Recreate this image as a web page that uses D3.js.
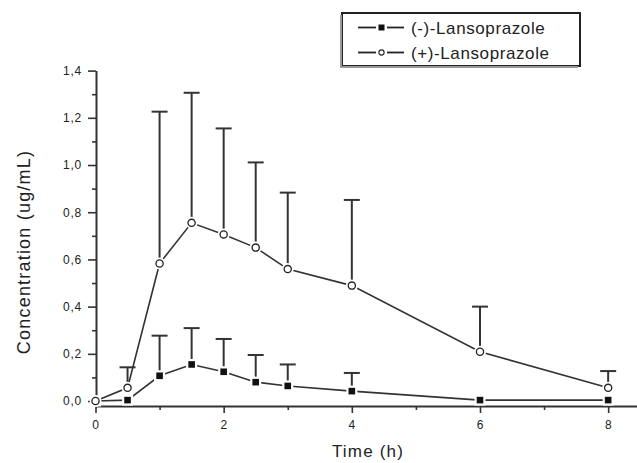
<!DOCTYPE html>
<html>
<head>
<meta charset="utf-8">
<script src="https://cdn.jsdelivr.net/npm/d3@7"></script>
<style>
  body { margin: 0; background: #fff; }
  svg text { font-family: "Liberation Sans", Arial, sans-serif; fill: #222; }
</style>
</head>
<body>
<svg id="chart"></svg>
<script>
// data
const time = [0, 0.5, 1, 1.5, 2, 2.5, 3, 4, 6, 8]
const minusMean = [0, 0.004, 0.107, 0.155, 0.124, 0.080, 0.064, 0.042, 0.004, 0.004]
const minusSD   = [0, 0, 0.170, 0.154, 0.139, 0.115, 0.091, 0.077, 0, 0]
const plusMean  = [0, 0.056, 0.583, 0.755, 0.706, 0.650, 0.559, 0.489, 0.209, 0.056]
const plusSD    = [0, 0.087, 0.643, 0.551, 0.449, 0.361, 0.324, 0.363, 0.191, 0.071]
const xTicks = [0, 2, 4, 6, 8]
const xMinor = [1, 3, 5, 7]
const yTicks = [0, 0.2, 0.4, 0.6, 0.8, 1.0, 1.2, 1.4]
const yMinor = [0.1, 0.3, 0.5, 0.7, 0.9, 1.1, 1.3]
const seriesNames = ['(-)-Lansoprazole', '(+)-Lansoprazole']

const W = 637, H = 463
const svg = d3.select('#chart').attr('width', W).attr('height', H)

const x = d3.scaleLinear().domain([0, 8.45]).range([95.5, 637])
const y = d3.scaleLinear().domain([-0.021, 1.4]).range([406, 70.6])

const minus = time.map((t, i) => ({t: t, v: minusMean[i], sd: minusSD[i]}))
const plus = time.map((t, i) => ({t: t, v: plusMean[i], sd: plusSD[i]}))

// axes
const fmt = d => d3.format('.1f')(d).replace('.', ',')

const yg = svg.append('g').attr('transform', 'translate(96,0)')
yg.call(d3.axisLeft(y).tickValues(yTicks).tickSize(8).tickSizeOuter(0).tickPadding(6).tickFormat(fmt))
yg.append('g').call(d3.axisLeft(y).tickValues(yMinor).tickSize(4).tickFormat(''))
  .select('.domain').remove()

const xg = svg.append('g').attr('transform', 'translate(0,406)')
xg.call(d3.axisBottom(x).tickValues(xTicks).tickSize(7).tickSizeOuter(0).tickPadding(7).tickFormat(d3.format('d')))
xg.append('g').call(d3.axisBottom(x).tickValues(xMinor).tickSize(4).tickFormat(''))
  .select('.domain').remove()

svg.selectAll('.domain').attr('stroke', '#333').attr('stroke-width', 2)
svg.selectAll('.tick line').attr('stroke', '#333').attr('stroke-width', 1.6)
svg.selectAll('.tick text').attr('font-size', 12).attr('letter-spacing', 0.8).attr('fill', '#333')

// axis titles
svg.append('text')
  .attr('x', 368).attr('y', 457)
  .attr('text-anchor', 'middle')
  .attr('font-size', 17).attr('letter-spacing', 1.2)
  .text('Time (h)')

svg.append('text')
  .attr('transform', 'translate(30,252) rotate(-90)')
  .attr('text-anchor', 'middle')
  .attr('font-size', 18).attr('letter-spacing', 1.2)
  .text('Concentration (ug/mL)')

// error bars (upper only)
function errBars(data){
  const g = svg.append('g').attr('stroke', '#333').attr('stroke-width', 2)
  const d = data.filter(p => p.sd > 0)
  g.selectAll('line.v').data(d).enter().append('line')
    .attr('x1', p => x(p.t)).attr('x2', p => x(p.t))
    .attr('y1', p => y(p.v)).attr('y2', p => y(p.v + p.sd))
  g.selectAll('line.c').data(d).enter().append('line')
    .attr('x1', p => x(p.t) - 8).attr('x2', p => x(p.t) + 8)
    .attr('y1', p => y(p.v + p.sd)).attr('y2', p => y(p.v + p.sd))
}
errBars(minus)
errBars(plus)

// lines
const line = d3.line().x(p => x(p.t)).y(p => y(p.v))
svg.append('path').attr('d', line(minus)).attr('fill', 'none').attr('stroke', '#333').attr('stroke-width', 1.6)
svg.append('path').attr('d', line(plus)).attr('fill', 'none').attr('stroke', '#333').attr('stroke-width', 1.6)

// markers with white gap around them
svg.selectAll('rect.halo').data(minus).enter().append('rect')
  .attr('x', p => x(p.t) - 5.5).attr('y', p => y(p.v) - 5.5)
  .attr('width', 11).attr('height', 11).attr('fill', '#fff')
svg.selectAll('rect.sq').data(minus).enter().append('rect')
  .attr('x', p => x(p.t) - 3.3).attr('y', p => y(p.v) - 3.3)
  .attr('width', 6.6).attr('height', 6.6).attr('fill', '#111')

svg.selectAll('circle.halo').data(plus).enter().append('circle')
  .attr('cx', p => x(p.t)).attr('cy', p => y(p.v)).attr('r', 6).attr('fill', '#fff')
svg.selectAll('circle.pt').data(plus).enter().append('circle')
  .attr('cx', p => x(p.t)).attr('cy', p => y(p.v)).attr('r', 3.6)
  .attr('fill', '#fff').attr('stroke', '#222').attr('stroke-width', 1.3)

// legend
const lg = svg.append('g')
lg.append('rect').attr('x', 342).attr('y', 13).attr('width', 238).attr('height', 53)
  .attr('fill', '#fff').attr('stroke', '#222').attr('stroke-width', 2)
lg.append('rect').attr('x', 340).attr('y', 15).attr('width', 2).attr('height', 53).attr('fill', '#999')
lg.append('rect').attr('x', 340).attr('y', 66).attr('width', 238).attr('height', 2).attr('fill', '#999')

seriesNames.forEach((name, i) => {
  const ly = 27.5 + i * 25
  lg.append('line').attr('x1', 358).attr('x2', 376).attr('y1', ly).attr('y2', ly).attr('stroke', '#222').attr('stroke-width', 1.8)
  lg.append('line').attr('x1', 387).attr('x2', 404).attr('y1', ly).attr('y2', ly).attr('stroke', '#222').attr('stroke-width', 1.8)
  if (i === 0) {
    lg.append('rect').attr('x', 378.5).attr('y', ly - 3).attr('width', 6).attr('height', 6).attr('fill', '#111')
  } else {
    lg.append('circle').attr('cx', 381.5).attr('cy', ly).attr('r', 2.6).attr('fill', '#fff').attr('stroke', '#222').attr('stroke-width', 1.1)
  }
  lg.append('text').attr('x', 411).attr('y', ly + 6)
    .attr('font-size', 17).attr('letter-spacing', 0.6)
    .text(name)
})
</script>
</body>
</html>
